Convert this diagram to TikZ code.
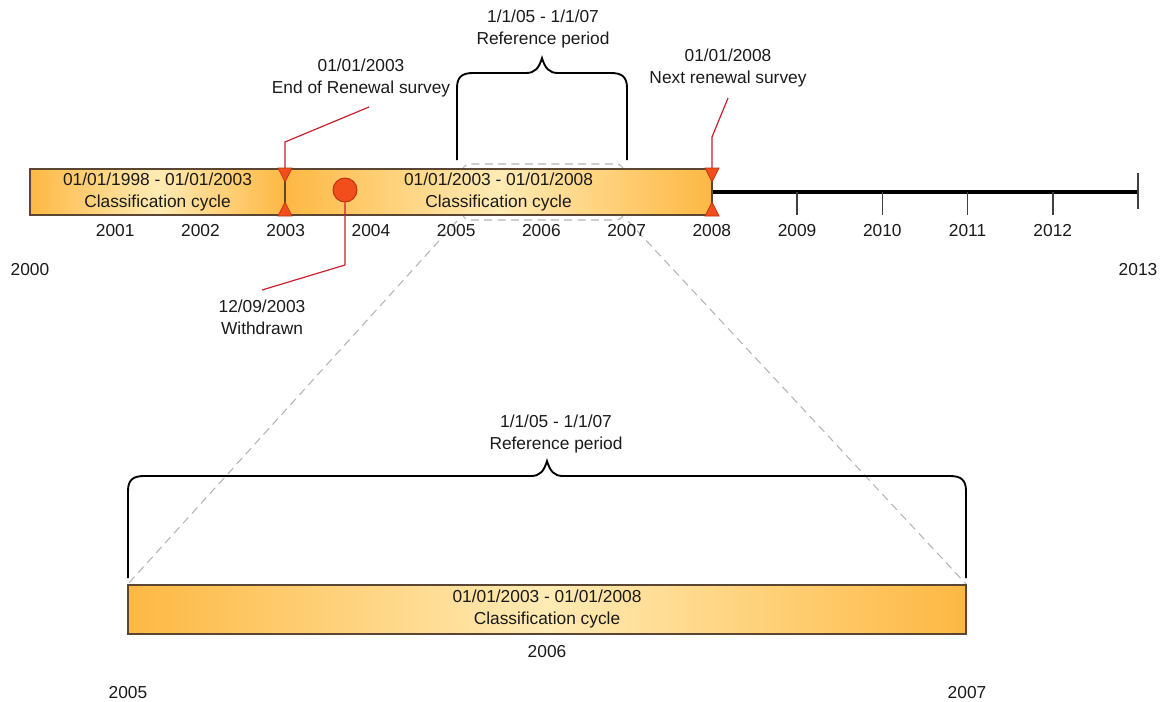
\documentclass[tikz,border=0pt]{standalone}
\usepackage{fontspec}
\setmainfont{Liberation Sans}
\definecolor{txt}{HTML}{1A1A1A}
\definecolor{barline}{HTML}{5A4632}
\definecolor{barorange}{HTML}{FDB843}
\definecolor{barlight}{HTML}{FFEBB4}
\definecolor{markfill}{HTML}{F24E1C}
\definecolor{markline}{HTML}{B8300E}
\definecolor{callred}{HTML}{C8202E}
\definecolor{lensgray}{HTML}{B4B4B4}
\begin{document}
\begin{tikzpicture}[x=0.75pt,y=-0.75pt,
  every node/.style={font=\fontsize{13}{16.5}\selectfont, text=txt},
  bar/.style={draw=barline, line width=0.9pt, left color=barorange, right color=barorange, middle color=barlight, inner sep=0pt, align=center},
  marker/.style={fill=markfill, draw=markline, line width=0.5pt},
  callout/.style={draw=callred, line width=0.9pt},
  brace/.style={draw=black, line width=1.4pt},
  lens/.style={draw=lensgray, line width=0.8pt, dash pattern=on 6pt off 4pt},
  tick/.style={draw=black!75, line width=1.1pt},
  lbl/.style={align=center, inner sep=0pt}]
\useasboundingbox (0,0) rectangle (1166,701);

% zoom lens (dashed)
\draw[lens, rounded corners=6pt] (462,164) rectangle (624,220);
\coordinate (lensL) at (457,221);
\coordinate (lensR) at (628,221);
\coordinate (zoomL) at (128,584);
\coordinate (zoomR) at (966,584);
\draw[lens] (lensL) -- (zoomL);
\draw[lens] (lensR) -- (zoomR);

% top bars
\node[bar, minimum width=191.25pt, minimum height=34.5pt] (bar1) at (157.5,192) {01/01/1998 - 01/01/2003\\Classification cycle};
\node[bar, minimum width=320.25pt, minimum height=34.5pt] (bar2) at (498.5,192) {01/01/2003 - 01/01/2008\\Classification cycle};

% axis
\coordinate (axend) at (1138,192);
\draw[line width=2.6pt] (bar2.east) -- (axend);
\foreach \i in {9,10,11,12} {
  \draw[tick] ({30+85.23*\i},192) -- ({30+85.23*\i},215);
}
\draw[tick] (1138,173) -- (1138,209);

% year labels
\foreach \yr [count=\i] in {2001,2002,2003,2004,2005,2006,2007,2008,2009,2010,2011,2012} {
  \node (y\yr) at ({30+85.23*\i},231) {\yr};
}
\node (y2000) at (30,270) {2000};
\node (y2013) at (1138,270) {2013};

% callouts
\coordinate (m03) at (285,169);
\coordinate (m03a) at (285,142);
\coordinate (m03b) at (369,107);
\draw[callout] (m03) -- (m03a) -- (m03b);
\node[lbl] (t03) at (361,78) {01/01/2003\\End of Renewal survey};

\coordinate (m08) at (712,169);
\coordinate (m08a) at (712,137);
\coordinate (m08b) at (728,98);
\draw[callout] (m08) -- (m08a) -- (m08b);
\node[lbl] (t08) at (728,68.5) {01/01/2008\\Next renewal survey};

\node[circle, fill=markfill, draw=markline, line width=0.7pt, minimum size=18pt, inner sep=0pt] (wd) at (345,190) {};
\coordinate (wda) at (345,265);
\coordinate (wdb) at (262,290);
\draw[callout] (wd.south) -- (wda) -- (wdb);
\node[lbl] (twd) at (262,317.5) {12/09/2003\\Withdrawn};

% red markers
\foreach \mx in {285,712} {
  \path[marker] (\mx-7,168) -- (\mx+7,168) -- (\mx,182) -- cycle;
  \path[marker] (\mx-7,216) -- (\mx+7,216) -- (\mx,202) -- cycle;
}

% top brace
\draw[brace] (457,160) -- (457,88) .. controls (457,77) and (462,73) .. (473,73) -- (526,73) .. controls (535,73) and (539,68) .. (542,58) .. controls (545,68) and (549,73) .. (558,73) -- (611,73) .. controls (622,73) and (627,77) .. (627,88) -- (627,160);
\node[lbl] (tref1) at (543,29) {1/1/05 - 1/1/07\\Reference period};

% bottom brace
\draw[brace] (128,578) -- (128,491) .. controls (128,480) and (133,476) .. (144,476) -- (531,476) .. controls (540,476) and (544,471) .. (547,461) .. controls (550,471) and (554,476) .. (563,476) -- (950,476) .. controls (961,476) and (966,480) .. (966,491) -- (966,578);
\node[lbl] (tref2) at (556,434) {1/1/05 - 1/1/07\\Reference period};

% bottom bar
\node[bar, minimum width=628.5pt, minimum height=36.75pt] (bar3) at (547,609.5) {01/01/2003 - 01/01/2008\\Classification cycle};
\node (b2006) at (547,652) {2006};
\node (b2005) at (128,693) {2005};
\node (b2007) at (967,693) {2007};
\end{tikzpicture}
\end{document}
